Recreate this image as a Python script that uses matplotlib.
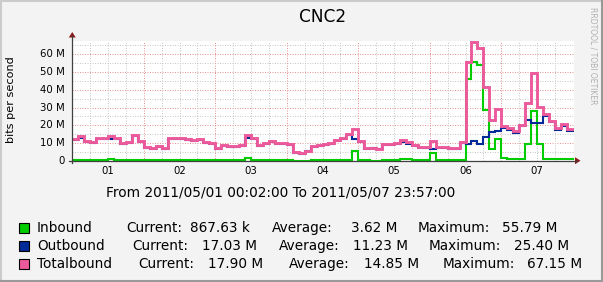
import numpy as np
import matplotlib
matplotlib.use("Agg")
import matplotlib.pyplot as plt
from matplotlib.lines import Line2D
from matplotlib.patches import Polygon, Rectangle

# ---------------- data (Mbit/s, one value per 2 hours, 84 steps) ----------------
hours = list(range(0, 168, 2))

totalbound = [12.2, 13.7, 11.0, 10.4, 12.8, 12.8, 13.7, 12.8, 9.8, 10.3,
              14.5, 11.0, 7.5, 7.0, 8.1, 7.0, 12.8, 12.8, 12.8, 12.4,
              11.7, 12.0, 10.7, 9.8, 7.0, 9.0, 8.3, 8.3, 9.0, 14.5,
              12.6, 8.8, 10.2, 11.1, 10.2, 10.2, 9.4, 4.7, 4.1, 5.6,
              8.3, 8.8, 9.2, 10.2, 11.7, 12.6, 14.8, 17.9, 11.1, 7.3,
              7.3, 6.6, 9.2, 9.2, 10.2, 11.7, 10.3, 8.8, 7.9, 7.9,
              10.9, 7.5, 7.5, 7.3, 7.0, 10.7, 55.5, 67.15, 63.5, 41.7,
              22.7, 29.1, 19.7, 18.4, 16.6, 20.2, 32.3, 49.2, 30.5, 26.2,
              22.5, 18.3, 20.5, 17.90]

inbound = [0.5, 0.5, 0.5, 0.5, 0.5, 0.5, 1.2, 0.5, 0.5, 0.5,
           0.5, 0.5, 0.5, 0.5, 0.5, 0.5, 0.5, 0.5, 0.5, 0.5,
           0.5, 0.5, 0.5, 0.5, 0.5, 0.5, 0.5, 0.5, 0.5, 1.5,
           0.5, 0.5, 0.5, 0.5, 0.5, 0.5, 0.5, 0.1, 0.1, 0.1,
           0.5, 0.5, 0.5, 0.5, 0.5, 0.5, 0.5, 5.5, 0.5, 0.5,
           0.1, 0.1, 0.5, 0.5, 0.5, 1.1, 1.1, 0.5, 0.5, 0.5,
           4.5, 0.5, 0.5, 0.5, 0.5, 0.5, 45.9, 55.79, 54.0, 28.6,
           6.5, 12.2, 1.3, 0.9, 0.9, 0.9, 9.6, 28.0, 9.2, 0.9,
           0.9, 0.9, 0.9, 0.87]

outbound = [11.7, 13.0, 10.5, 9.8, 12.3, 12.3, 12.5, 12.0, 9.3, 9.8,
            14.0, 10.5, 7.0, 6.5, 7.6, 6.5, 12.3, 12.3, 12.3, 11.9,
            11.2, 11.5, 10.2, 9.3, 6.5, 8.5, 7.8, 7.8, 8.5, 13.0,
            12.1, 8.3, 9.7, 10.6, 9.7, 9.7, 8.9, 4.6, 4.0, 5.5,
            7.8, 8.3, 8.7, 9.7, 11.2, 12.1, 14.3, 12.4, 10.6, 6.8,
            7.2, 6.5, 8.7, 8.7, 9.7, 10.6, 9.2, 8.3, 7.4, 7.4,
            6.4, 7.0, 7.0, 6.8, 6.5, 10.2, 9.6, 11.36, 9.5, 13.1,
            16.2, 16.9, 18.4, 17.5, 15.7, 19.3, 22.7, 21.2, 21.3, 25.40,
            21.6, 17.4, 19.6, 17.03]

y_ticks = [0, 10, 20, 30, 40, 50, 60]
y_tick_labels = ["0", "10 M", "20 M", "30 M", "40 M", "50 M", "60 M"]
day_labels = ["01", "02", "03", "04", "05", "06", "07"]

legend_rows = [
    ("Inbound", "#00CC00",
     [("Inbound", 37), ("Current:", 126), ("867.63 k", 190), ("Average:", 272),
      ("3.62 M", 351), ("Maximum:", 418), ("55.79 M", 502)]),
    ("Outbound", "#002A97",
     [("Outbound", 37), ("Current:", 132), ("17.03 M", 202), ("Average:", 278.5),
      ("11.23 M", 353), ("Maximum:", 429), ("25.40 M", 513.5)]),
    ("Totalbound", "#EC5a9b",
     [("Totalbound", 37), ("Current:", 138.5), ("17.90 M", 208), ("Average:", 288.5),
      ("14.85 M", 364), ("Maximum:", 443), ("67.15 M", 527)]),
]

# ---------------- layout helpers ----------------
W, H = 603, 282
def fx(px):
    return px / W
def fy(py):
    return 1 - py / H

plt.rcParams['font.family'] = ['DejaVu Sans']

fig = plt.figure(figsize=(W / 100, H / 100), dpi=100, facecolor='#F3F3F3')

X0, X1 = 72.25, 574.0
Y0, Y1 = 160.7, 41.0
PX_PER_H = 71.5 / 24
PX_PER_M = 1.773

ax = fig.add_axes([fx(X0), fy(Y0), (X1 - X0) / W, (Y0 - Y1) / H])
ax.set_facecolor('white')
ax.set_xlim(0, (X1 - X0) / PX_PER_H)
ax.set_ylim(0, (Y0 - Y1) / PX_PER_M)
for s in ax.spines.values():
    s.set_visible(False)
ax.set_xticks([])
ax.set_yticks([])

# grid
minor_col = '#C8C8C8'
major_col = '#E89494'
dash = (0, (1, 1.5))
for v in range(5, 70, 5):
    if v > ax.get_ylim()[1]:
        break
    col = major_col if v % 10 == 0 else minor_col
    ax.axhline(v, color=col, lw=0.72, ls=dash, zorder=1)
for h in range(6, 168, 6):
    col = major_col if h % 24 == 0 else minor_col
    ax.axvline(h, color=col, lw=0.72, ls=dash, zorder=1)

# series (step lines)
xs = np.array(hours + [168])
def stepdata(vals):
    return np.array(vals + [vals[-1]])

ax.plot(xs, stepdata(inbound), drawstyle='steps-post', color='#00CC00', lw=1.5, zorder=3,
        solid_joinstyle='miter')
ax.plot(xs, stepdata(outbound), drawstyle='steps-post', color='#002A97', lw=1.5, zorder=4,
        solid_joinstyle='miter')
ax.plot(xs, stepdata(totalbound), drawstyle='steps-post', color='#EC5a9b', lw=2.1, zorder=5,
        solid_joinstyle='miter')

# axes lines and arrows
axis_col = '#404040'
arrow_col = '#8B1A1A'
fig.add_artist(Line2D([fx(X0), fx(X0)], [fy(Y0 + 2), fy(36)], color=axis_col, lw=0.9))
fig.add_artist(Line2D([fx(X0 - 3), fx(577)], [fy(Y0), fy(Y0)], color=axis_col, lw=0.9))
fig.add_artist(Polygon([[fx(X0 - 3.5), fy(37.5)], [fx(X0 + 3.5), fy(37.5)], [fx(X0), fy(32)]],
                       closed=True, color=arrow_col, lw=0))
fig.add_artist(Polygon([[fx(575), fy(Y0 - 3.5)], [fx(575), fy(Y0 + 3.5)], [fx(580.5), fy(Y0)]],
                       closed=True, color=arrow_col, lw=0))

# y tick labels
for v, lab in zip(y_ticks, y_tick_labels):
    fig.text(fx(64.5), fy(Y0 - v * PX_PER_M), lab, ha='right', va='center', fontsize=7.25)
# x tick labels
for i, lab in enumerate(day_labels):
    fig.text(fx(X0 + (12 + 24 * i) * PX_PER_H), fy(171), lab, ha='center', va='center', fontsize=7.25)

# titles
fig.text(fx(322.5), fy(17), "CNC2", ha='center', va='center', fontsize=12.2)
fig.text(fx(11), fy(100), "bits per second", ha='center', va='center', rotation=90, fontsize=8.1)
fig.text(fx(281), fy(192), "From 2011/05/01 00:02:00 To 2011/05/07 23:57:00",
         ha='center', va='center', fontsize=9.8)
fig.text(fx(593), fy(56), "RRDTOOL / TOBI OETIKER", ha='center', va='center', rotation=270,
         fontsize=5.5, color='#B0B0B0')

# legend
for r, (name, col, parts) in enumerate(legend_rows):
    yc = 228 + 18 * r
    fig.add_artist(Rectangle((fx(19), fy(yc + 5)), 10 / W, 10 / H, facecolor=col,
                             edgecolor='black', lw=0.8))
    for txt, xp in parts:
        fig.text(fx(xp), fy(yc), txt, ha='left', va='center', fontsize=9.8)

# frame (3D shade)
fig.add_artist(Line2D([0, 1], [fy(1), fy(1)], color='#CBCBCB', lw=1.5))
fig.add_artist(Line2D([fx(1), fx(1)], [0, 1], color='#CBCBCB', lw=1.5))
fig.add_artist(Line2D([0, 1], [fy(281), fy(281)], color='#999999', lw=1.5))
fig.add_artist(Line2D([fx(602), fx(602)], [0, 1], color='#999999', lw=1.5))

fig.savefig("out.png", dpi=100, facecolor=fig.get_facecolor())
